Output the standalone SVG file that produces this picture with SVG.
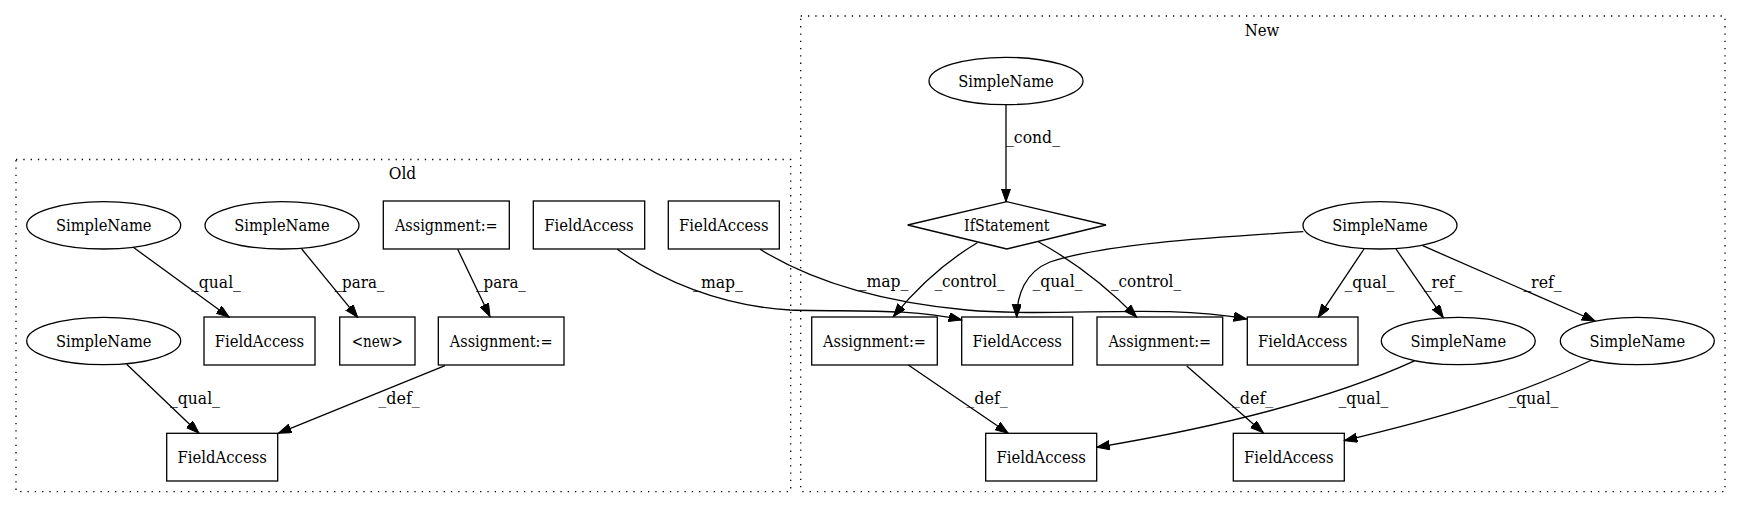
<svg xmlns="http://www.w3.org/2000/svg" width="1741" height="508" viewBox="0 0 1741 508">
<style>
text{font-family:"DejaVu Serif",serif;font-size:16.6px;fill:#000;text-anchor:middle}
.n{fill:none;stroke:#000;stroke-width:1.3}
.c{fill:none;stroke:#000;stroke-width:1.3;stroke-dasharray:1.3,6}
.e{fill:none;stroke:#000;stroke-width:1.3;marker-end:url(#ah)}
</style>
<defs>
<marker id="ah" markerUnits="userSpaceOnUse" markerWidth="14" markerHeight="10" refX="13" refY="4.6" orient="auto">
<path d="M0,0 L13,4.6 L0,9.2 z" fill="#000" stroke="#000" stroke-width="1"/>
</marker>
</defs>
<rect width="1741" height="508" fill="#fff"/>
<g id="cluster_old">
<rect class="c" x="16" y="159.5" width="774.7" height="332.2"/>
<text x="402.5" y="179" textLength="27.5" lengthAdjust="spacingAndGlyphs">Old</text>
</g>
<g id="cluster_new">
<rect class="c" x="800.7" y="16" width="924.3" height="475.7"/>
<text x="1262" y="35.5" textLength="34.6" lengthAdjust="spacingAndGlyphs">New</text>
</g>
<g id="connectors">
<path class="e" d="M133.3,247.3 L229.3,317.3"/>
<text x="216" y="288" textLength="49.8" lengthAdjust="spacingAndGlyphs">_qual_</text>
<path class="e" d="M301.7,249 L357.7,317.3"/>
<text x="359.5" y="288" textLength="49.8" lengthAdjust="spacingAndGlyphs">_para_</text>
<path class="e" d="M126.7,364.3 L199,433.3"/>
<text x="195" y="404" textLength="49.8" lengthAdjust="spacingAndGlyphs">_qual_</text>
<path class="e" d="M445,365.7 L278.3,433.3"/>
<text x="399" y="404" textLength="41.7" lengthAdjust="spacingAndGlyphs">_def_</text>
<path class="e" d="M457.7,249.3 L490,316.7"/>
<text x="501" y="288" textLength="49.8" lengthAdjust="spacingAndGlyphs">_para_</text>
<path class="e" d="M617.3,249.3 C660,280 720,306 790,310 C850,312 910,308 961.7,320"/>
<text x="718" y="288" textLength="49.8" lengthAdjust="spacingAndGlyphs">_map_</text>
<path class="e" d="M760,249.3 C810,280 880,302 966.7,310 C1060,318 1160,303 1246.7,319"/>
<text x="883.5" y="287" textLength="49.8" lengthAdjust="spacingAndGlyphs">_map_</text>
<path class="e" d="M1006,105 L1006,201.7"/>
<text x="1033" y="143" textLength="53.9" lengthAdjust="spacingAndGlyphs">_cond_</text>
<path class="e" d="M977.3,242.7 C945,262 915,290 893.3,316.7"/>
<text x="969.5" y="287" textLength="70.1" lengthAdjust="spacingAndGlyphs">_control_</text>
<path class="e" d="M1038.3,241.7 C1075,262 1110,290 1136.7,317.3"/>
<text x="1146" y="287" textLength="70.1" lengthAdjust="spacingAndGlyphs">_control_</text>
<path class="e" d="M1303.3,231.7 C1200,238 1100,245 1050,262 C1025,272 1017,295 1016.7,317.3"/>
<text x="1057.5" y="287" textLength="49.8" lengthAdjust="spacingAndGlyphs">_qual_</text>
<path class="e" d="M1364,249 L1318.3,317.3"/>
<text x="1369.5" y="288" textLength="49.8" lengthAdjust="spacingAndGlyphs">_qual_</text>
<path class="e" d="M1396,249 L1443.3,317.7"/>
<text x="1443" y="288" textLength="38.6" lengthAdjust="spacingAndGlyphs">_ref_</text>
<path class="e" d="M1422.7,245.7 L1595,321"/>
<text x="1542.5" y="288" textLength="38.6" lengthAdjust="spacingAndGlyphs">_ref_</text>
<path class="e" d="M908.3,365 L1008.3,433.3"/>
<text x="987" y="404" textLength="41.7" lengthAdjust="spacingAndGlyphs">_def_</text>
<path class="e" d="M1186.7,366 L1263.3,432.7"/>
<text x="1252.5" y="404" textLength="41.7" lengthAdjust="spacingAndGlyphs">_def_</text>
<path class="e" d="M1415,360.7 C1340,395 1230,425 1096.7,447.3"/>
<text x="1363.5" y="404" textLength="49.8" lengthAdjust="spacingAndGlyphs">_qual_</text>
<path class="e" d="M1591.7,360 C1520,395 1440,418 1344.3,440.7"/>
<text x="1533.5" y="404" textLength="49.8" lengthAdjust="spacingAndGlyphs">_qual_</text>
</g>
<g id="old_sn1"><ellipse class="n" cx="103.7" cy="225.3" rx="77" ry="23.7"/><text x="103.7" y="231.3" textLength="95.6" lengthAdjust="spacingAndGlyphs">SimpleName</text></g>
<g id="old_sn2"><ellipse class="n" cx="282" cy="225.3" rx="77" ry="23.7"/><text x="282" y="231.3" textLength="95.6" lengthAdjust="spacingAndGlyphs">SimpleName</text></g>
<g id="old_assign1"><rect class="n" x="383.3" y="201" width="126" height="48"/><text x="446.3" y="231.3" textLength="102.8" lengthAdjust="spacingAndGlyphs">Assignment:=</text></g>
<g id="old_fa1"><rect class="n" x="533.3" y="201" width="111.4" height="48"/><text x="589" y="231.3" textLength="89.5" lengthAdjust="spacingAndGlyphs">FieldAccess</text></g>
<g id="old_fa2"><rect class="n" x="668.3" y="201" width="111" height="48"/><text x="723.8" y="231.3" textLength="89.5" lengthAdjust="spacingAndGlyphs">FieldAccess</text></g>
<g id="old_sn3"><ellipse class="n" cx="103.7" cy="341" rx="77" ry="23.7"/><text x="103.7" y="347" textLength="95.6" lengthAdjust="spacingAndGlyphs">SimpleName</text></g>
<g id="old_fa3"><rect class="n" x="204" y="317" width="111" height="48"/><text x="259.5" y="347" textLength="89.5" lengthAdjust="spacingAndGlyphs">FieldAccess</text></g>
<g id="old_new"><rect class="n" x="339.7" y="317" width="75.3" height="48"/><text x="377.3" y="347" textLength="51.1" lengthAdjust="spacingAndGlyphs">&lt;new&gt;</text></g>
<g id="old_assign2"><rect class="n" x="438.3" y="317" width="125.7" height="48"/><text x="501.2" y="347" textLength="102.8" lengthAdjust="spacingAndGlyphs">Assignment:=</text></g>
<g id="old_fa4"><rect class="n" x="166.7" y="433.3" width="111" height="47.7"/><text x="222.2" y="463" textLength="89.5" lengthAdjust="spacingAndGlyphs">FieldAccess</text></g>
<g id="new_sn_cond"><ellipse class="n" cx="1006" cy="81" rx="77" ry="23.7"/><text x="1006" y="87" textLength="95.6" lengthAdjust="spacingAndGlyphs">SimpleName</text></g>
<g id="new_if"><polygon class="n" points="907.7,225 1006.8,201.7 1106,225 1006.8,249"/><text x="1006.8" y="231" textLength="85.4" lengthAdjust="spacingAndGlyphs">IfStatement</text></g>
<g id="new_sn_top"><ellipse class="n" cx="1380" cy="225.3" rx="77" ry="23.7"/><text x="1380" y="231.3" textLength="95.6" lengthAdjust="spacingAndGlyphs">SimpleName</text></g>
<g id="new_assign1"><rect class="n" x="811.7" y="317" width="125.6" height="48"/><text x="874.5" y="347" textLength="102.8" lengthAdjust="spacingAndGlyphs">Assignment:=</text></g>
<g id="new_fa1"><rect class="n" x="961.7" y="317" width="111" height="48"/><text x="1017.2" y="347" textLength="89.5" lengthAdjust="spacingAndGlyphs">FieldAccess</text></g>
<g id="new_assign2"><rect class="n" x="1097" y="317" width="125.7" height="48"/><text x="1159.8" y="347" textLength="102.8" lengthAdjust="spacingAndGlyphs">Assignment:=</text></g>
<g id="new_fa2"><rect class="n" x="1247.3" y="317" width="110.7" height="48"/><text x="1302.7" y="347" textLength="89.5" lengthAdjust="spacingAndGlyphs">FieldAccess</text></g>
<g id="new_sn_mid"><ellipse class="n" cx="1458.3" cy="341" rx="77" ry="23.7"/><text x="1458.3" y="347" textLength="95.6" lengthAdjust="spacingAndGlyphs">SimpleName</text></g>
<g id="new_sn_right"><ellipse class="n" cx="1637.3" cy="341" rx="77" ry="23.7"/><text x="1637.3" y="347" textLength="95.6" lengthAdjust="spacingAndGlyphs">SimpleName</text></g>
<g id="new_fa3"><rect class="n" x="985.7" y="433.3" width="111" height="47.7"/><text x="1041.2" y="463" textLength="89.5" lengthAdjust="spacingAndGlyphs">FieldAccess</text></g>
<g id="new_fa4"><rect class="n" x="1233.3" y="433.3" width="111" height="47.7"/><text x="1288.8" y="463" textLength="89.5" lengthAdjust="spacingAndGlyphs">FieldAccess</text></g>
</svg>
